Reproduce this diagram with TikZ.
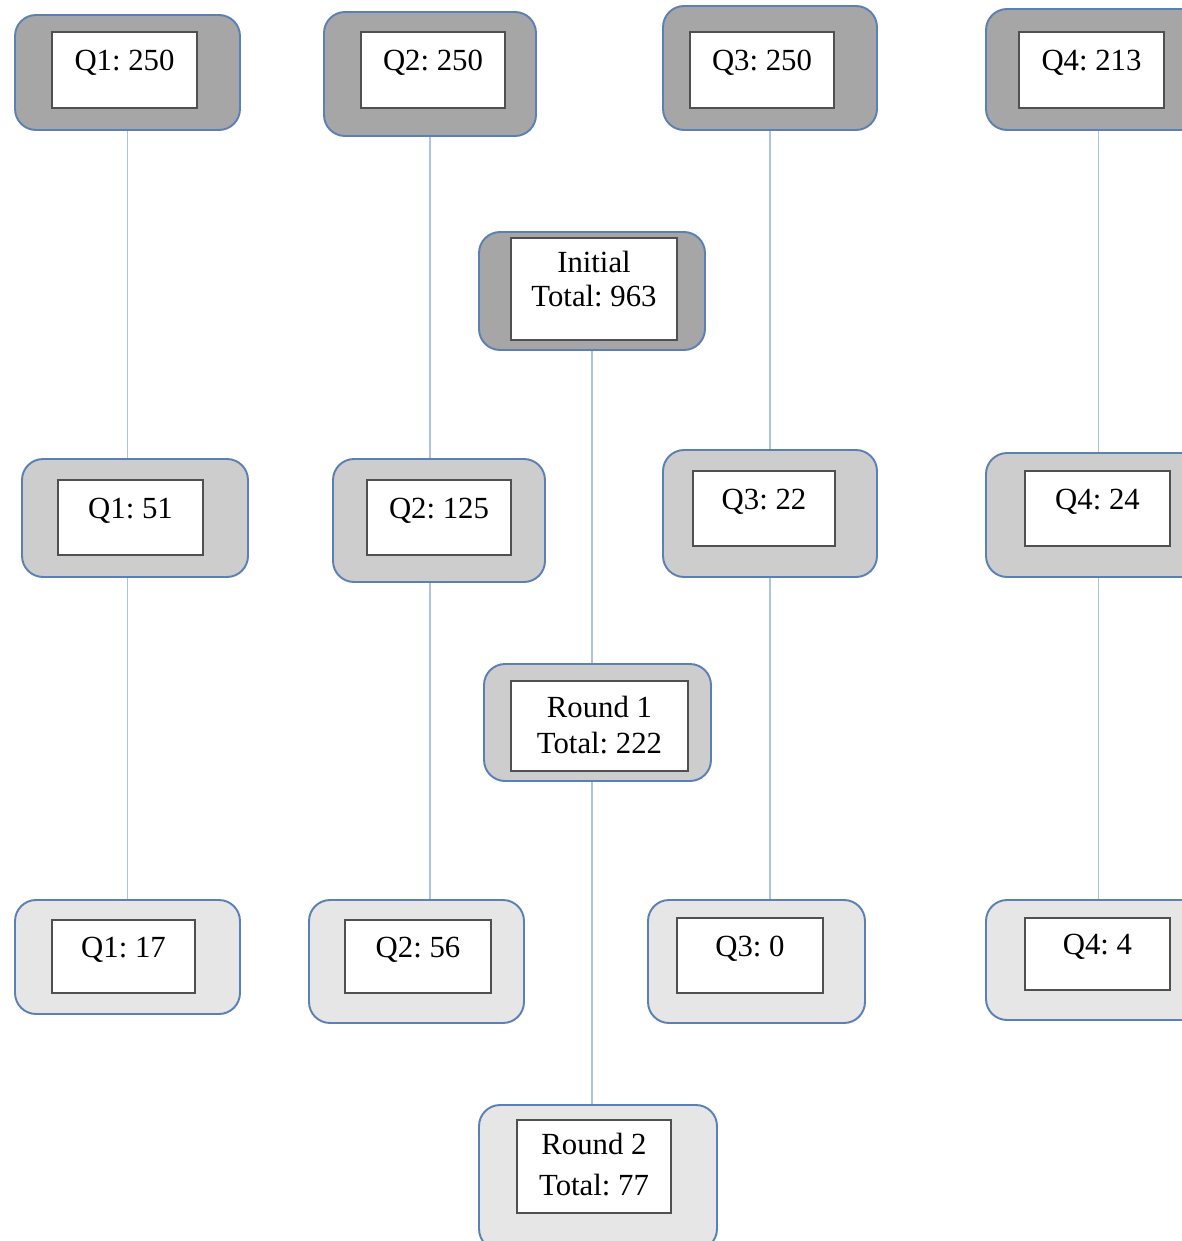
\documentclass[tikz,border=0pt]{standalone}
\usepackage{fontspec}
\setmainfont{Liberation Serif}
\usetikzlibrary{calc}
\definecolor{rimblue}{HTML}{5A80B5}
\definecolor{linkblue}{HTML}{A9C5E3}
\definecolor{topgray}{HTML}{A6A6A6}
\definecolor{midgray}{HTML}{CDCDCD}
\definecolor{lowgray}{HTML}{E6E6E6}
\definecolor{framegray}{HTML}{505050}
\tikzset{
	stage/.style={draw=rimblue, line width=1.1pt, rounded corners=0.42cm, inner sep=0pt},
	tally/.style={draw=framegray, line width=1pt, fill=white, inner sep=0pt, font=\fontsize{17.5}{20}\selectfont\frenchspacing},
	oneline/.style={text height=0.4cm, text depth=0.37cm},
	twoline/.style={align=center, text height=#1, text depth=0.36cm},
	link/.style={draw=linkblue, line width=1.1pt}
}

\begin{document}
\begin{tikzpicture}[x=0.02cm, y=-0.02cm]
			%%%%% START %%%%%
			\useasboundingbox (0, 0) rectangle (1182, 1241);
			\clip (0, 0) rectangle (1182, 1241);
			
			% first row
			\node[stage, fill=topgray, minimum width=4.5cm, minimum height=2.3cm] (q1a) at (127.5, 72.5) {};
			\node[tally, oneline, minimum width=2.9cm, minimum height=1.52cm] (q1a-in) at (124.5, 70) {Q1: 250};
			\node[stage, fill=topgray, minimum width=4.24cm, minimum height=2.48cm] (q2a) at (430, 74) {};
			\node[tally, oneline, minimum width=2.88cm, minimum height=1.52cm] (q2a-in) at (433, 70) {Q2: 250};
			\node[stage, fill=topgray, minimum width=4.28cm, minimum height=2.48cm] (q3a) at (770, 68) {};
			\node[tally, oneline, minimum width=2.88cm, minimum height=1.52cm] (q3a-in) at (762, 70) {Q3: 250};
			\node[stage, fill=topgray, minimum width=4.5cm, minimum height=2.42cm] (q4a) at (1098.5, 69.5) {};
			\node[tally, oneline, minimum width=2.9cm, minimum height=1.52cm] (q4a-in) at (1091.5, 70) {Q4: 213};
			
			\node[stage, fill=topgray, minimum width=4.52cm, minimum height=2.36cm] (init) at (592, 291) {};
			\node[tally, twoline=1.04cm, minimum width=3.32cm, minimum height=2.04cm] (init-in) at (594, 289) {Initial\\[-1.2pt]Total: 963};
			
			% second row
			\node[stage, fill=midgray, minimum width=4.52cm, minimum height=2.36cm] (q1b) at (135, 518) {};
			\node[tally, oneline, minimum width=2.9cm, minimum height=1.5cm] (q1b-in) at (130.5, 517.5) {Q1: 51};
			\node[stage, fill=midgray, minimum width=4.24cm, minimum height=2.46cm] (q2b) at (439, 520.5) {};
			\node[tally, oneline, minimum width=2.88cm, minimum height=1.5cm] (q2b-in) at (439, 517.5) {Q2: 125};
			\node[stage, fill=midgray, minimum width=4.28cm, minimum height=2.54cm] (q3b) at (770, 513.5) {};
			\node[tally, oneline, minimum width=2.84cm, minimum height=1.5cm] (q3b-in) at (764, 508.5) {Q3: 22};
			\node[stage, fill=midgray, minimum width=4.5cm, minimum height=2.48cm] (q4b) at (1098.5, 515) {};
			\node[tally, oneline, minimum width=2.9cm, minimum height=1.5cm] (q4b-in) at (1097.5, 508.5) {Q4: 24};
			
			\node[stage, fill=midgray, minimum width=4.54cm, minimum height=2.34cm] (rnd1) at (597.5, 722.5) {};
			\node[tally, twoline=1.44cm, minimum width=3.54cm, minimum height=1.76cm] (rnd1-in) at (599.5, 726) {Round 1\\Total: 222};
			
			% third row
			\node[stage, fill=lowgray, minimum width=4.5cm, minimum height=2.28cm] (q1c) at (127.5, 957) {};
			\node[tally, oneline, minimum width=2.86cm, minimum height=1.46cm] (q1c-in) at (123.5, 956.5) {Q1: 17};
			\node[stage, fill=lowgray, minimum width=4.3cm, minimum height=2.46cm] (q2c) at (416.5, 961.5) {};
			\node[tally, oneline, minimum width=2.92cm, minimum height=1.46cm] (q2c-in) at (418, 956.5) {Q2: 56};
			\node[stage, fill=lowgray, minimum width=4.34cm, minimum height=2.46cm] (q3c) at (756.5, 961.5) {};
			\node[tally, oneline, minimum width=2.92cm, minimum height=1.5cm] (q3c-in) at (750, 955.5) {Q3: 0};
			\node[stage, fill=lowgray, minimum width=4.5cm, minimum height=2.4cm] (q4c) at (1098.5, 960) {};
			\node[tally, oneline, minimum width=2.9cm, minimum height=1.44cm] (q4c-in) at (1097.5, 954) {Q4: 4};
			
			\node[stage, fill=lowgray, minimum width=4.76cm, minimum height=2.9cm] (rnd2) at (598, 1177.5) {};
			\node[tally, twoline=1.5cm, minimum width=3.08cm, minimum height=1.86cm] (rnd2-in) at (594, 1166.5) {Round 2\\[2.8pt]Total: 77};
			
			% links
			\draw[link] (q1a.south) -- (q1b.north -| q1a);
			\draw[link] (q1b.south -| q1a) -- (q1c.north -| q1a);
			\draw[link] (q2a.south) -- (q2b.north -| q2a);
			\draw[link] (q2b.south -| q2a) -- (q2c.north -| q2a);
			\draw[link] (q3a.south) -- (q3b.north -| q3a);
			\draw[link] (q3b.south -| q3a) -- (q3c.north -| q3a);
			\draw[link] (q4a.south) -- (q4b.north -| q4a);
			\draw[link] (q4b.south -| q4a) -- (q4c.north -| q4a);
			\draw[link] (init.south) -- (rnd1.north -| init);
			\draw[link] (rnd1.south -| init) -- (rnd2.north -| init);
			
			%%%%% END %%%%%
\end{tikzpicture}
\end{document}
